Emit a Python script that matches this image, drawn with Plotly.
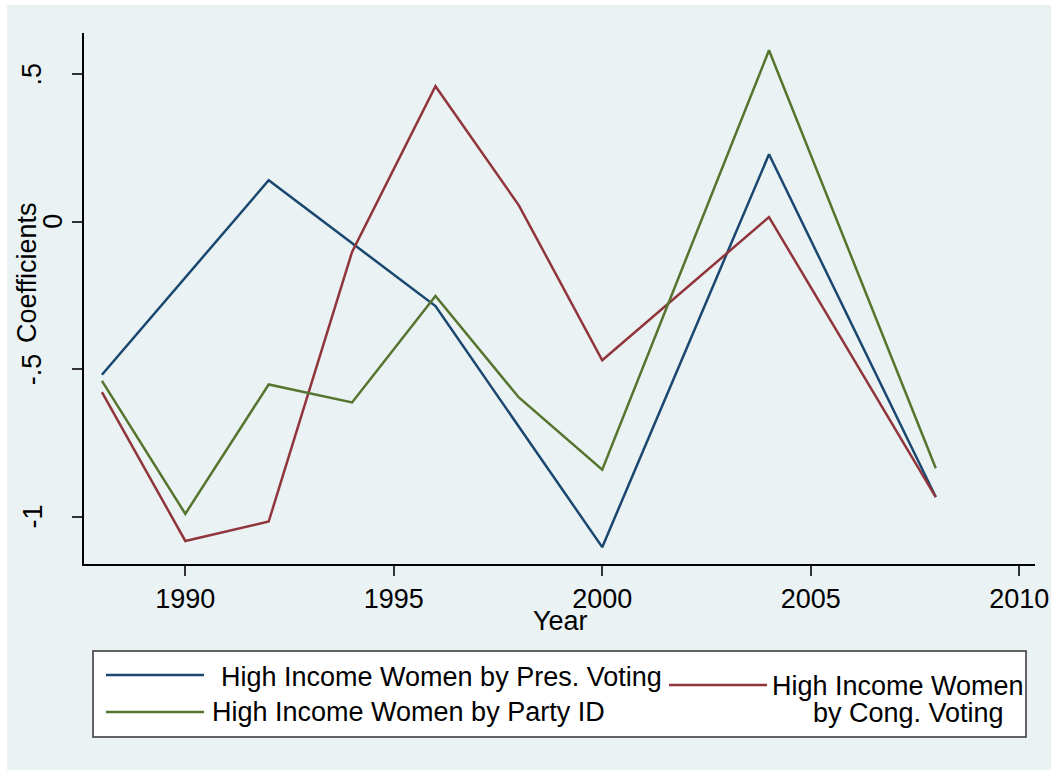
import plotly.graph_objects as go

# Estimated coefficients by survey year
pres_years = [1988, 1992, 1996, 2000, 2004, 2008]
pres_coef = [-0.519, 0.141, -0.286, -1.104, 0.229, -0.934]

cong_years = [1988, 1990, 1992, 1994, 1996, 1998, 2000, 2004, 2008]
cong_coef = [-0.578, -1.083, -1.017, -0.102, 0.460, 0.056, -0.470, 0.016, -0.934]

party_years = [1988, 1990, 1992, 1994, 1996, 1998, 2000, 2004, 2008]
party_coef = [-0.540, -0.991, -0.552, -0.613, -0.252, -0.596, -0.841, 0.582, -0.836]

x_ticks = [1990, 1995, 2000, 2005, 2010]
y_ticks = [0.5, 0, -0.5, -1]
y_tick_text = [".5", "0", "-.5", "-1"]

labels = {
    "pres": "High Income Women by Pres. Voting",
    "party": "High Income Women by Party ID",
    "cong": ["High Income Women", "by Cong. Voting"],
}

NAVY = "#1A476F"
MAROON = "#90353B"
GREEN = "#55752F"
BG = "#EAF2F3"
FONT = "Liberation Sans, Arial, sans-serif"
FS = 27

W, H = 1051, 770
L, R, T, B = 84, 1035, 33, 564  # plot area in pixels


def px_x(px):
    return (px - L) / (R - L)


def px_y(py):
    return (B - py) / (B - T)


fig = go.Figure()
fig.add_trace(go.Scatter(x=pres_years, y=pres_coef, mode="lines",
                         line=dict(color=NAVY, width=2.5), showlegend=False))
fig.add_trace(go.Scatter(x=cong_years, y=cong_coef, mode="lines",
                         line=dict(color=MAROON, width=2.5), showlegend=False))
fig.add_trace(go.Scatter(x=party_years, y=party_coef, mode="lines",
                         line=dict(color=GREEN, width=2.5), showlegend=False))

shapes = []
# outer graph region
shapes.append(dict(type="rect", xref="paper", yref="paper", layer="below",
                   x0=px_x(7), x1=px_x(W + 5), y0=px_y(5), y1=px_y(H + 5),
                   fillcolor=BG, line=dict(width=0)))
# legend box
shapes.append(dict(type="rect", xref="paper", yref="paper",
                   x0=px_x(93), x1=px_x(1026), y0=px_y(651), y1=px_y(737),
                   fillcolor="white", line=dict(color="#333333", width=1.5)))
# legend keys
for col, x0, x1, yk in [(NAVY, 106, 204, 675), (GREEN, 106, 204, 712),
                        (MAROON, 669, 767, 685)]:
    shapes.append(dict(type="line", xref="paper", yref="paper",
                       x0=px_x(x0), x1=px_x(x1), y0=px_y(yk), y1=px_y(yk),
                       line=dict(color=col, width=2.5)))

annotations = []
# y tick labels (rotated)
for v, t in zip(y_ticks, y_tick_text):
    xr = 70 if t == "0" else 49
    annotations.append(dict(x=px_x(xr), y=v, xref="paper", yref="y",
                            text=t, textangle=-90, showarrow=False,
                            xanchor="right", yanchor="middle",
                            font=dict(family=FONT, size=FS, color="black")))
# axis titles
annotations.append(dict(x=px_x(44), y=px_y(273), xref="paper", yref="paper",
                        text="Coefficients", textangle=-90, showarrow=False,
                        xanchor="right", yanchor="middle",
                        font=dict(family=FONT, size=FS, color="black")))
annotations.append(dict(x=px_x(560), y=px_y(621), xref="paper", yref="paper",
                        text="Year", showarrow=False,
                        xanchor="center", yanchor="middle",
                        font=dict(family=FONT, size=FS, color="black")))
# legend texts
annotations.append(dict(x=px_x(219), y=px_y(677), xref="paper", yref="paper",
                        text=labels["pres"], showarrow=False,
                        xanchor="left", yanchor="middle",
                        font=dict(family=FONT, size=FS, color="black")))
annotations.append(dict(x=px_x(210), y=px_y(712), xref="paper", yref="paper",
                        text=labels["party"], showarrow=False,
                        xanchor="left", yanchor="middle",
                        font=dict(family=FONT, size=FS, color="black")))
annotations.append(dict(x=px_x(898), y=px_y(686), xref="paper", yref="paper",
                        text=labels["cong"][0], showarrow=False,
                        xanchor="center", yanchor="middle",
                        font=dict(family=FONT, size=FS, color="black")))
annotations.append(dict(x=px_x(908), y=px_y(713), xref="paper", yref="paper",
                        text=labels["cong"][1], showarrow=False,
                        xanchor="center", yanchor="middle",
                        font=dict(family=FONT, size=FS, color="black")))

fig.update_layout(
    width=W, height=H,
    margin=dict(l=L, r=W - R, t=T, b=H - B, pad=0, autoexpand=False),
    paper_bgcolor="white",
    plot_bgcolor="white",
    shapes=shapes,
    annotations=annotations,
    xaxis=dict(range=[1987.57, 2010.38], tickvals=x_ticks, automargin=False,
               ticks="outside", ticklen=10, tickwidth=1.5, tickcolor="#333333",
               showline=True, linecolor="black", linewidth=1.5,
               showgrid=False, zeroline=False,
               tickfont=dict(family=FONT, size=FS, color="black"),
               ticklabelstandoff=0),
    yaxis=dict(range=[-1.1612, 0.6407], tickvals=y_ticks, automargin=False,
               showticklabels=False,
               ticks="outside", ticklen=10, tickwidth=1.5, tickcolor="#333333",
               showline=True, linecolor="black", linewidth=1.5,
               showgrid=True, gridcolor=BG, gridwidth=2, zeroline=False),
)

fig.write_html("out.html")
